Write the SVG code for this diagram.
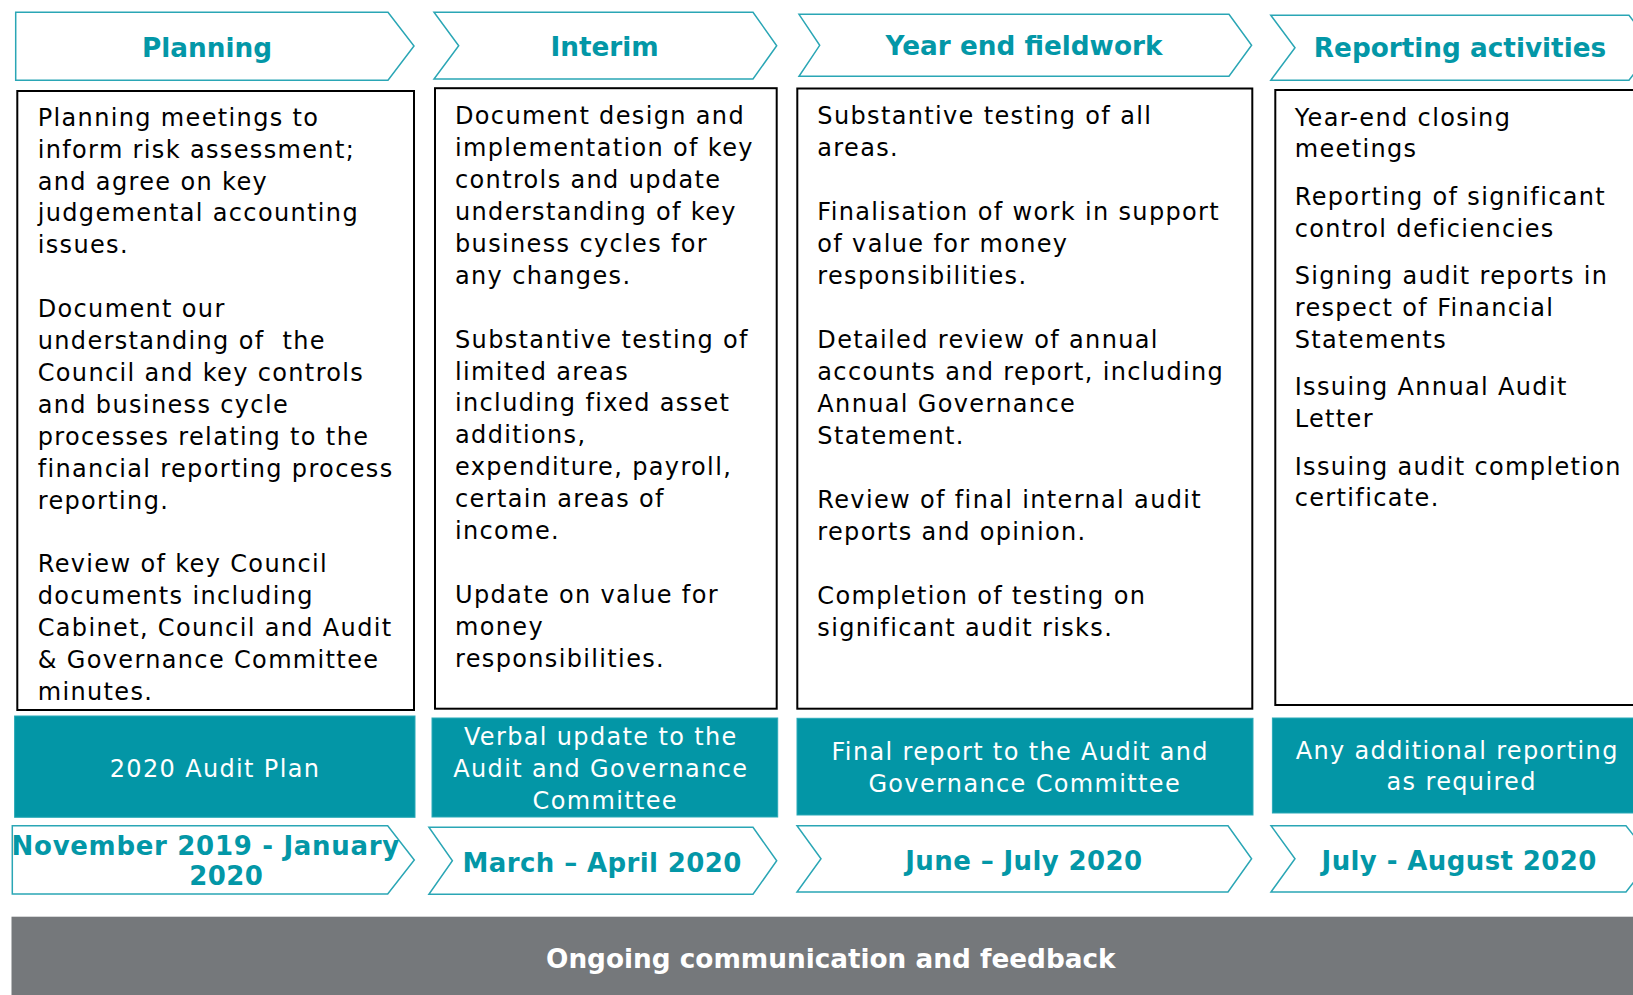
<svg xmlns="http://www.w3.org/2000/svg" width="1633" height="995" viewBox="0 0 1633 995">
<style>
.chev{fill:#ffffff;stroke:#2aa6b5;stroke-width:1.5}
.box{fill:#ffffff;stroke:#000000;stroke-width:2}
.tbox{fill:#0396a6;stroke:#2aa9b7;stroke-width:1}
.hd{font-family:"DejaVu Sans",Verdana,sans-serif;font-weight:bold;font-size:26.3px;fill:#0397a7;text-anchor:middle}
.dt{font-family:"DejaVu Sans",Verdana,sans-serif;font-weight:bold;font-size:26px;letter-spacing:0.4px;fill:#0397a7;text-anchor:middle}
.body{font-family:"DejaVu Sans",Verdana,sans-serif;font-size:24px;letter-spacing:1.35px;fill:#000000}
.wt{font-family:"DejaVu Sans",Verdana,sans-serif;font-size:24px;letter-spacing:1.35px;fill:#ffffff;text-anchor:middle}
.bar{fill:#75787b}
.bt{font-family:"DejaVu Sans",Verdana,sans-serif;font-weight:bold;font-size:26.3px;fill:#ffffff;text-anchor:middle}
</style>

<g id="phase-planning">
  <path class="chev" d="M15.7,12.3 H388 L414,46 L388,80.3 H15.7 Z"/>
  <text class="hd" x="207" y="56.7">Planning</text>
</g>
<g id="phase-interim">
  <path class="chev" d="M434,12.3 H753 L776.7,45.7 L753,79 H434 L458.7,45.7 Z"/>
  <text class="hd" x="604.6" y="55.7">Interim</text>
</g>
<g id="phase-yearend">
  <path class="chev" d="M799,14.3 H1229 L1251.6,45.3 L1229,76.3 H799 L819.7,45.3 Z"/>
  <text class="hd" x="1024" y="55">Year end fieldwork</text>
</g>
<g id="phase-reporting">
  <path class="chev" d="M1270.8,15.3 H1629 L1654,47.8 L1629,80.3 H1270.8 L1295,47.8 Z"/>
  <text class="hd" x="1460" y="57.3">Reporting activities</text>
</g>

<g id="activities-planning">
  <rect class="box" x="17.3" y="91" width="396.7" height="619"/>
  <text class="body">
    <tspan x="37.7" y="125.7">Planning meetings to</tspan>
    <tspan x="37.7" y="157.6">inform risk assessment;</tspan>
    <tspan x="37.7" y="189.5">and agree on key</tspan>
    <tspan x="37.7" y="221.4">judgemental accounting</tspan>
    <tspan x="37.7" y="253.3">issues.</tspan>
    <tspan x="37.7" y="317.1">Document our</tspan>
    <tspan x="37.7" y="349">understanding of&#160; the</tspan>
    <tspan x="37.7" y="380.9">Council and key controls</tspan>
    <tspan x="37.7" y="412.8">and business cycle</tspan>
    <tspan x="37.7" y="444.7">processes relating to the</tspan>
    <tspan x="37.7" y="476.6">financial reporting process</tspan>
    <tspan x="37.7" y="508.5">reporting.</tspan>
    <tspan x="37.7" y="572.3">Review of key Council</tspan>
    <tspan x="37.7" y="604.2">documents including</tspan>
    <tspan x="37.7" y="636.1">Cabinet, Council and Audit</tspan>
    <tspan x="37.7" y="668">&amp; Governance Committee</tspan>
    <tspan x="37.7" y="699.9">minutes.</tspan>
  </text>
</g>
<g id="activities-interim">
  <rect class="box" x="435" y="88.2" width="341.7" height="620.5"/>
  <text class="body">
    <tspan x="455" y="124.3">Document design and</tspan>
    <tspan x="455" y="156.2">implementation of key</tspan>
    <tspan x="455" y="188.1">controls and update</tspan>
    <tspan x="455" y="220">understanding of key</tspan>
    <tspan x="455" y="251.9">business cycles for</tspan>
    <tspan x="455" y="283.8">any changes.</tspan>
    <tspan x="455" y="347.6">Substantive testing of</tspan>
    <tspan x="455" y="379.5">limited areas</tspan>
    <tspan x="455" y="411.4">including fixed asset</tspan>
    <tspan x="455" y="443.3">additions,</tspan>
    <tspan x="455" y="475.2">expenditure, payroll,</tspan>
    <tspan x="455" y="507.1">certain areas of</tspan>
    <tspan x="455" y="539">income.</tspan>
    <tspan x="455" y="602.8">Update on value for</tspan>
    <tspan x="455" y="634.7">money</tspan>
    <tspan x="455" y="666.6">responsibilities.</tspan>
  </text>
</g>
<g id="activities-yearend">
  <rect class="box" x="797.3" y="88.5" width="455" height="620.2"/>
  <text class="body">
    <tspan x="817.3" y="124.3">Substantive testing of all</tspan>
    <tspan x="817.3" y="156.3">areas.</tspan>
    <tspan x="817.3" y="220.3">Finalisation of work in support</tspan>
    <tspan x="817.3" y="252.3">of value for money</tspan>
    <tspan x="817.3" y="284.3">responsibilities.</tspan>
    <tspan x="817.3" y="348.3">Detailed review of annual</tspan>
    <tspan x="817.3" y="380.3">accounts and report, including</tspan>
    <tspan x="817.3" y="412.3">Annual Governance</tspan>
    <tspan x="817.3" y="444.3">Statement.</tspan>
    <tspan x="817.3" y="508.3">Review of final internal audit</tspan>
    <tspan x="817.3" y="540.3">reports and opinion.</tspan>
    <tspan x="817.3" y="604.3">Completion of testing on</tspan>
    <tspan x="817.3" y="636.3">significant audit risks.</tspan>
  </text>
</g>
<g id="activities-reporting">
  <rect class="box" x="1275.3" y="90" width="370" height="615"/>
  <text class="body">
    <tspan x="1294.7" y="125.7">Year-end closing</tspan>
    <tspan x="1294.7" y="157.4">meetings</tspan>
    <tspan x="1294.7" y="205">Reporting of significant</tspan>
    <tspan x="1294.7" y="236.7">control deficiencies</tspan>
    <tspan x="1294.7" y="284.3">Signing audit reports in</tspan>
    <tspan x="1294.7" y="316">respect of Financial</tspan>
    <tspan x="1294.7" y="347.7">Statements</tspan>
    <tspan x="1294.7" y="395.3">Issuing Annual Audit</tspan>
    <tspan x="1294.7" y="427">Letter</tspan>
    <tspan x="1294.7" y="474.6">Issuing audit completion</tspan>
    <tspan x="1294.7" y="506.3">certificate.</tspan>
  </text>
</g>

<g id="output-planning">
  <rect class="tbox" x="14.6" y="716" width="400.4" height="101.3"/>
  <text class="wt" x="215" y="777.3">2020 Audit Plan</text>
</g>
<g id="output-interim">
  <rect class="tbox" x="432" y="718" width="345.7" height="99"/>
  <text class="wt">
    <tspan x="605.3" y="745">Verbal update to the</tspan>
    <tspan x="605.3" y="777.3">Audit and Governance</tspan>
    <tspan x="605.3" y="809.3">Committee</tspan>
  </text>
</g>
<g id="output-yearend">
  <rect class="tbox" x="797" y="718.3" width="456" height="96.7"/>
  <text class="wt">
    <tspan x="1024.7" y="760">Final report to the Audit and</tspan>
    <tspan x="1024.7" y="791.7">Governance Committee</tspan>
  </text>
</g>
<g id="output-reporting">
  <rect class="tbox" x="1272.4" y="718" width="370" height="95"/>
  <text class="wt">
    <tspan x="1461.7" y="759">Any additional reporting</tspan>
    <tspan x="1461.7" y="790">as required</tspan>
  </text>
</g>

<g id="date-planning">
  <path class="chev" d="M12.3,825.7 H387.7 L414.3,860 L387.7,894 H12.3 Z"/>
  <text class="dt">
    <tspan x="210.5" y="855" letter-spacing="0.7">November 2019 - January</tspan>
    <tspan x="226.2" y="885">2020</tspan>
  </text>
</g>
<g id="date-interim">
  <path class="chev" d="M428.9,827.3 H753 L776.7,860.8 L753,894.3 H428.9 L452.4,860.8 Z"/>
  <text class="dt" x="602.2" y="871.7" letter-spacing="0.55">March – April 2020</text>
</g>
<g id="date-yearend">
  <path class="chev" d="M797,825.7 H1228 L1251.6,858.8 L1228,892 H797 L821,858.8 Z"/>
  <text class="dt" x="1023.9" y="870" letter-spacing="0.85">June – July 2020</text>
</g>
<g id="date-reporting">
  <path class="chev" d="M1271,825.7 H1626 L1652,858.8 L1626,892 H1271 L1295,858.8 Z"/>
  <text class="dt" x="1459.2" y="870">July - August 2020</text>
</g>

<g id="ongoing">
  <rect class="bar" x="11.5" y="916.7" width="1625" height="80"/>
  <text class="bt" x="830.8" y="968">Ongoing communication and feedback</text>
</g>

<g id="connectors"></g>
</svg>
